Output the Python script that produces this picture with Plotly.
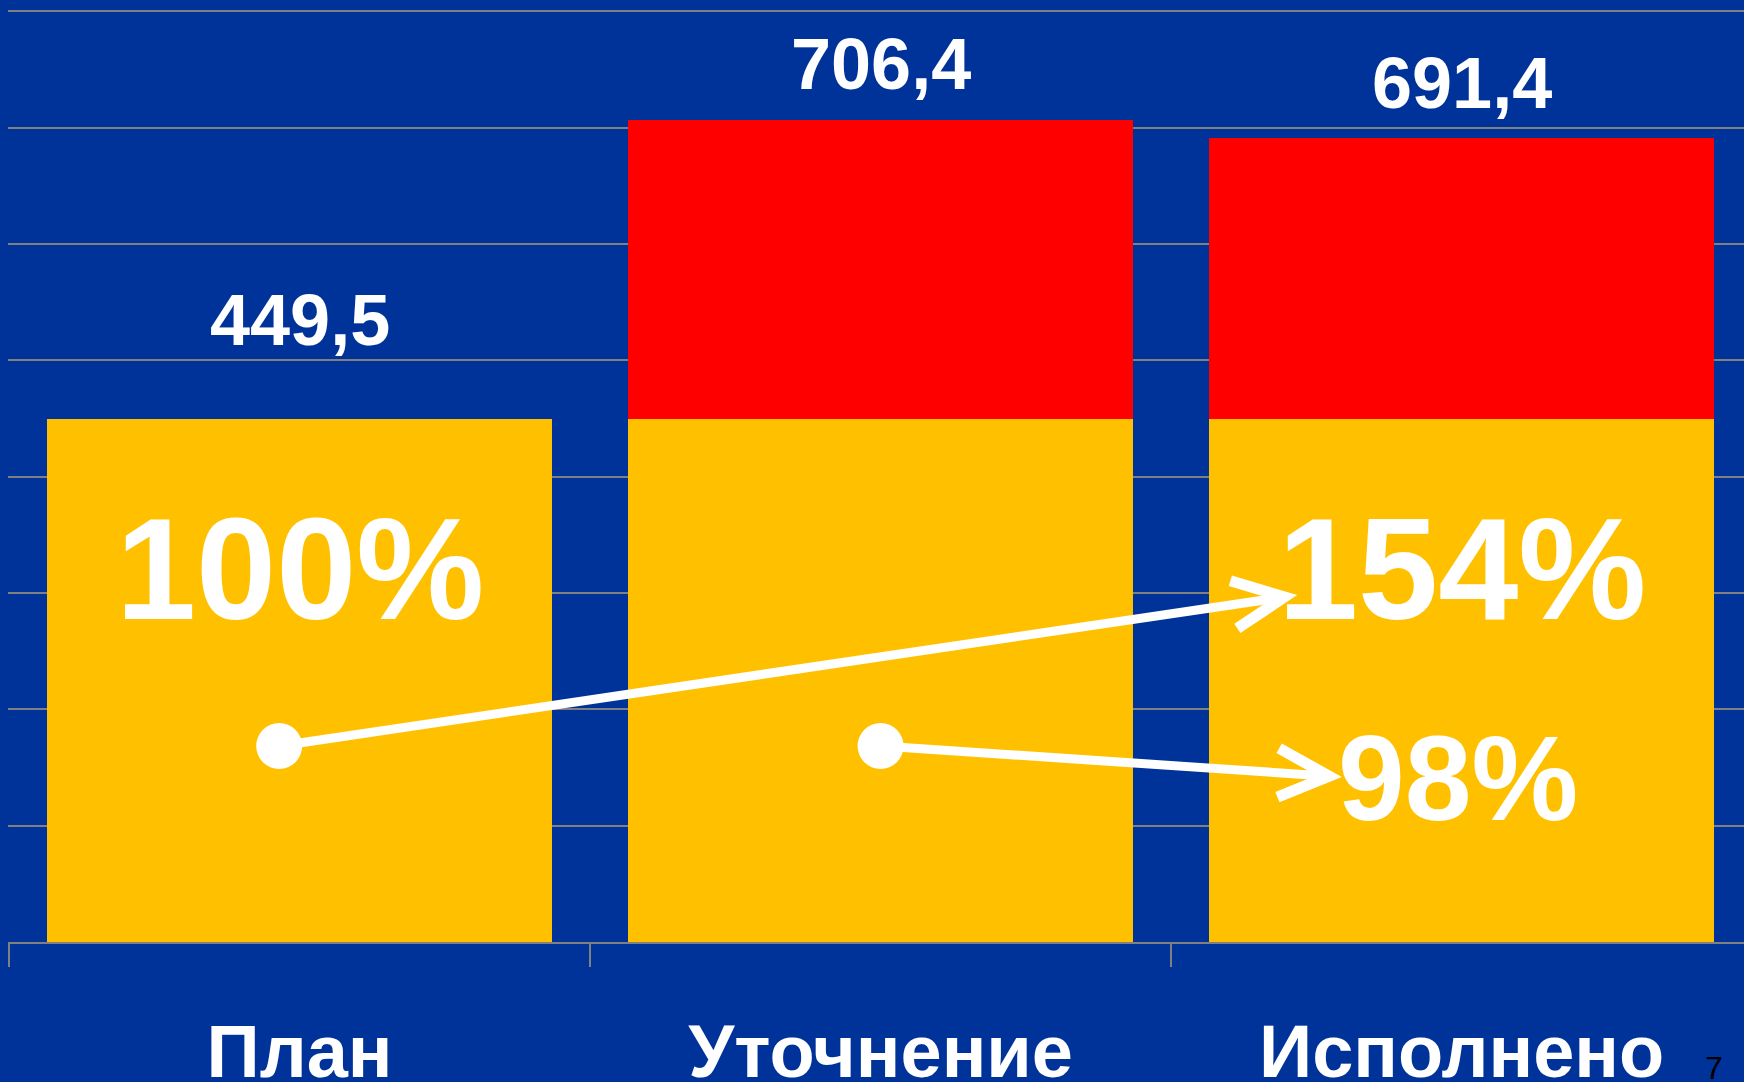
import plotly.graph_objects as go

# data
categories = ["План", "Уточнение", "Исполнено"]
base_values = [449.5, 449.5, 449.5]
extra_values = [0, 256.9, 241.9]
total_labels = ["449,5", "706,4", "691,4"]
totals = [449.5, 706.4, 691.4]
pct_labels = ["100%", "154%", "98%"]

BG = "#003399"
YELLOW = "#FFC000"
RED = "#FF0000"
GRID = "#808080"
FONT = "Arial, Liberation Sans, sans-serif"

fig = go.Figure()
fig.add_trace(go.Bar(x=categories, y=base_values, marker=dict(color=YELLOW, line=dict(width=0)),
                     hoverinfo="skip"))
fig.add_trace(go.Bar(x=categories, y=extra_values, marker=dict(color=RED, line=dict(width=0)),
                     hoverinfo="skip"))

# value labels above bars
label_offsets = [85, 48, 47]
annotations = []
for i, (t, v) in enumerate(zip(total_labels, totals)):
    annotations.append(dict(x=i, y=v + label_offsets[i], xref="x", yref="y", text="<b>%s</b>" % t,
                            showarrow=False, font=dict(family=FONT, size=72, color="white")))

# big percentages
annotations.append(dict(x=0.0, y=320, xref="x", yref="y", text="<b>%s</b>" % pct_labels[0],
                        showarrow=False, font=dict(family=FONT, size=144, color="white")))
annotations.append(dict(x=2.0, y=320, xref="x", yref="y", text="<b>%s</b>" % pct_labels[1],
                        showarrow=False, font=dict(family=FONT, size=144, color="white")))
annotations.append(dict(x=1.994, y=141, xref="x", yref="y", text="<b>%s</b>" % pct_labels[2],
                        showarrow=False, font=dict(family=FONT, size=120, color="white")))

# page number
annotations.append(dict(x=0.989, y=-0.155, xref="paper", yref="paper", text="7",
                        showarrow=False, font=dict(family=FONT, size=32, color="black")))

# arrows (dot -> open chevron)
def arrow(x0, y0, x1, y1, a1, a2):
    rx, ry = 0.0396, 19.8
    return [
        dict(type="line", xref="x", yref="y", x0=x0, y0=y0, x1=x1, y1=y1,
             line=dict(color="white", width=9)),
        dict(type="path", xref="x", yref="y",
             path="M %f,%f L %f,%f L %f,%f" % (a1[0], a1[1], x1, y1, a2[0], a2[1]),
             line=dict(color="white", width=11)),
        dict(type="circle", xref="x", yref="y", x0=x0 - rx, x1=x0 + rx, y0=y0 - ry, y1=y0 + ry,
             fillcolor="white", line=dict(color="white", width=0)),
    ]

shapes = []
shapes += arrow(-0.035, 168.5, 1.695, 296.5, (1.602, 310.5), (1.614, 269.5))
shapes += arrow(1.0, 168.5, 1.772, 142.5, (1.686, 166.5), (1.683, 124.5))

fig.update_layout(
    width=1744, height=1082,
    barmode="stack", bargap=0.13,
    showlegend=False,
    paper_bgcolor=BG, plot_bgcolor=BG,
    margin=dict(l=8, r=0, t=0, b=140),
    annotations=annotations,
    shapes=shapes,
    font=dict(family=FONT, color="white"),
)
fig.update_xaxes(range=[-0.5017, 2.486], tickson="boundaries", ticks="outside", ticklen=23,
                 tickcolor=GRID, tickwidth=1.5, showline=True, linecolor=GRID, linewidth=2,
                 showgrid=False, ticklabelstandoff=44, automargin=False,
                 tickfont=dict(family=FONT, size=74, color="white"),
                 tickprefix="<b>", ticksuffix="</b>")
fig.update_yaxes(range=[0, 809.6], dtick=100, showticklabels=False, gridcolor=GRID, gridwidth=1.5,
                 zeroline=False, showline=False, automargin=False)

fig.write_html("out.html", config={"displayModeBar": False},
               post_script="document.body.style.margin='0';document.body.style.overflow='hidden';")
